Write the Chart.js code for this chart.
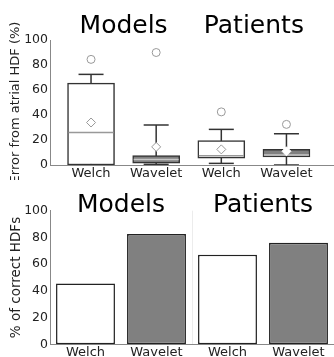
<!DOCTYPE html>
<html>
<head>
<meta charset="utf-8">
<script src="https://cdn.jsdelivr.net/npm/chart.js@4.4.1/dist/chart.umd.min.js"></script>
<style>
html, body { margin: 0; padding: 0; background: #fff; overflow: hidden; }
canvas { display: block; }
</style>
</head>
<body>
<canvas id="errorChart" width="334" height="180"></canvas>
<canvas id="correctChart" width="334" height="177"></canvas>
<script>
const groups = ['Models', 'Patients'];
const methods = ['Welch', 'Wavelet', 'Welch', 'Wavelet'];
const yTicks = [0, 20, 40, 60, 80, 100];

// box plot stats: error from atrial HDF (%)
const whiskerLow = [0, 0.5, 1.3, 0];
const quart1 = [0, 1.5, 5.5, 6.5];
const medians = [26, 4.5, 7.5, 8];
const quart3 = [65.5, 7.5, 19.5, 12.5];
const whiskerHigh = [72.5, 32, 28.5, 25];
const means = [34, 14.5, 12.5, 11];
const outliers = [84.5, 90, 42.5, 32.5];

// % of correct HDFs
const correct = [45.5, 82.5, 67, 76];

Chart.defaults.font.family = '"DejaVu Sans", sans-serif';
Chart.defaults.color = '#222';

const fills = methods.map(m => m === 'Welch' ? '#ffffff' : '#808080');
const idx = methods.map((_, i) => i);

// big "Models" / "Patients" headings over each pair
const groupTitles = {
    id: 'groupTitles',
    afterDraw(chart, args, opts) {
        const ctx = chart.ctx;
        const xs = chart.scales.x;
        ctx.save();
        ctx.font = '25px "DejaVu Sans"';
        ctx.fillStyle = '#000';
        ctx.textAlign = 'center';
        ctx.textBaseline = 'alphabetic';
        groups.forEach((g, i) => {
            ctx.fillText(g, xs.getPixelForValue(i * 2 + 0.5), opts.y);
        });
        ctx.restore();
    }
};

const whiskerPts = [];
idx.forEach(i => {
    whiskerPts.push({ x: i, y: whiskerLow[i] }, { x: i, y: whiskerHigh[i] }, { x: i, y: null });
});

const yAxis = (title, titleSize) => ({
    min: 0,
    max: 100,
    grid: { display: false, drawTicks: false },
    border: { color: '#888', width: 1 },
    afterBuildTicks: s => { s.ticks = yTicks.map(v => ({ value: v })); },
    ticks: { padding: 2, font: { size: 12.5 } },
    title: { display: true, text: title, color: '#222', font: { size: titleSize }, padding: { top: 8, bottom: 0 } },
    afterFit: s => {
        s.width = 50;
        s.paddingTop = 0;
        s.paddingBottom = 0;
    }
});

const xFit = h => s => {
    s.height = h;
    s.paddingLeft = 0;
    s.paddingRight = 0;
};

new Chart(document.getElementById('errorChart'), {
    type: 'bar',
    data: {
        datasets: [{
            type: 'scatter',
            data: idx.map(i => ({ x: i, y: outliers[i] })),
            pointStyle: 'circle',
            pointRadius: 4,
            pointBorderWidth: 1,
            pointBorderColor: '#999',
            pointBackgroundColor: '#fff'
        }, {
            type: 'scatter',
            data: idx.map(i => ({ x: i, y: means[i] })),
            pointStyle: 'rectRot',
            pointRadius: 4.5,
            pointBorderWidth: 1,
            pointBorderColor: ['#999', '#999', '#999', '#fff'],
            pointBackgroundColor: '#fff'
        }, {
            type: 'scatter',
            data: idx.map(i => ({ x: i, y: medians[i] })),
            pointStyle: 'line',
            pointRadius: 22.5,
            pointBorderWidth: 1.5,
            pointBorderColor: ['#999', '#c8c8c8', '#999', '#c8c8c8']
        }, {
            type: 'scatter',
            data: idx.flatMap(i => [{ x: i, y: whiskerLow[i] }, { x: i, y: whiskerHigh[i] }]),
            pointStyle: 'line',
            pointRadius: 12.5,
            pointBorderWidth: 1.5,
            pointBorderColor: '#333'
        }, {
            type: 'bar',
            data: idx.map(i => ({ x: i, y: [quart1[i], quart3[i]] })),
            backgroundColor: fills,
            borderColor: '#333',
            borderWidth: 1.5,
            borderSkipped: false,
            barThickness: 47
        }, {
            type: 'line',
            data: whiskerPts,
            borderColor: '#333',
            borderWidth: 1.5,
            pointRadius: 0,
            spanGaps: false
        }]
    },
    options: {
        responsive: false,
        animation: false,
        layout: { autoPadding: false, padding: { top: 40, right: 0, bottom: 0, left: 0 } },
        plugins: {
            legend: { display: false },
            tooltip: { enabled: false },
            groupTitles: { y: 33 }
        },
        scales: {
            x: {
                type: 'linear',
                min: -0.63,
                max: 3.73,
                offset: false,
                grid: { display: false, offset: false, drawTicks: false },
                border: { color: '#888', width: 1 },
                afterBuildTicks: s => { s.ticks = idx.map(i => ({ value: i })); },
                ticks: { callback: v => methods[v], autoSkip: false, maxRotation: 0, padding: 1, font: { size: 13 } },
                afterFit: xFit(15)
            },
            y: yAxis('Error from atrial HDF (%)', 13)
        }
    },
    plugins: [groupTitles]
});

new Chart(document.getElementById('correctChart'), {
    type: 'bar',
    data: {
        labels: methods,
        datasets: [{
            data: correct,
            backgroundColor: fills,
            borderColor: '#222',
            borderWidth: 1.5,
            borderSkipped: false,
            categoryPercentage: 1,
            barPercentage: 0.83
        }]
    },
    options: {
        responsive: false,
        animation: false,
        layout: { autoPadding: false, padding: { top: 30.7, right: 0, bottom: 0, left: 0 } },
        plugins: {
            legend: { display: false },
            tooltip: { enabled: false },
            groupTitles: { y: 32.3 }
        },
        scales: {
            x: {
                grid: {
                    offset: true,
                    drawTicks: false,
                    color: c => c.index === 2 ? '#ececec' : 'rgba(0,0,0,0)'
                },
                border: { color: '#888', width: 1 },
                ticks: { autoSkip: false, maxRotation: 0, padding: 1, font: { size: 13 } },
                afterFit: xFit(12.7)
            },
            y: yAxis('% of correct HDFs', 13.5)
        }
    },
    plugins: [groupTitles]
});
</script>
</body>
</html>
